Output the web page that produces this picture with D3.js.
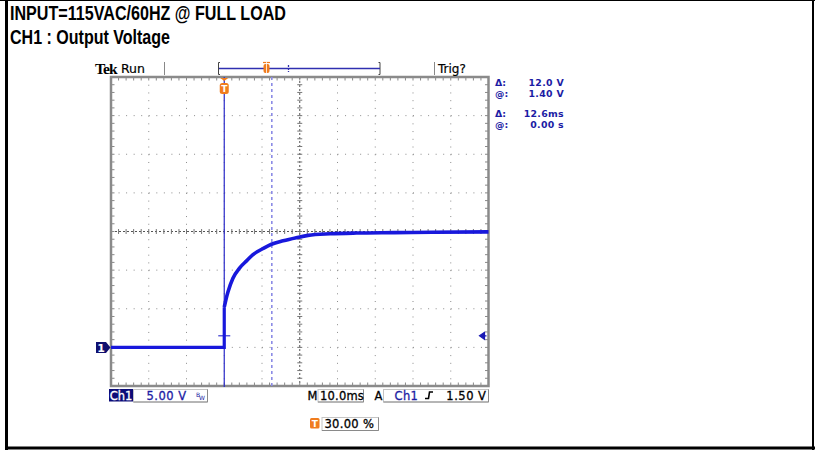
<!DOCTYPE html>
<html>
<head>
<meta charset="utf-8">
<script src="https://cdn.jsdelivr.net/npm/d3@7"></script>
<style>
  body { margin: 0; background: #fff; }
  svg { display: block; }
</style>
</head>
<body>
<div id="svgTarget"></div>
<script>
// captured waveform, CH1 (time in ms from trigger, volts)
const baseTimeMs = [-30, -20, -10, 0];
const baseVolts = [0, 0, 0, 0];
const riseTimeMs = [0, 0.5, 1.0, 2.3, 4.1, 5.9, 7.6, 10.3, 12.5, 15.6, 19.1, 22.2, 28, 35, 45, 55, 70];
const riseVolts = [5.2, 6.3, 7.2, 8.95, 10.3, 11.2, 12.0, 12.8, 13.35, 13.8, 14.2, 14.5, 14.7, 14.8, 14.85, 14.9, 14.95];

// scope settings
const timeTicks = [-30, -20, -10, 0, 10, 20, 30, 40, 50, 60, 70];
const voltTicks = [-5, 0, 5, 10, 15, 20, 25, 30, 35];
const cursorTimes = [0, 12.6];
const triggerLevel = 1.5;

const readouts = [
  ["Δ:", "12.0 V"],
  ["@:", "1.40 V"],
  ["Δ:", "12.6ms"],
  ["@:", "0.00 s"]
];

const W = 815, H = 450;
const svg = d3.select("#svgTarget")
  .append("svg")
    .attr("width", W)
    .attr("height", H);

// outer frame
svg.append("line").attr("x1", 0).attr("x2", W).attr("y1", 0.5).attr("y2", 0.5)
  .attr("stroke", "#000").attr("stroke-width", 1);
svg.append("line").attr("x1", 6.5).attr("x2", 6.5).attr("y1", 0).attr("y2", H)
  .attr("stroke", "#000").attr("stroke-width", 3);
svg.append("line").attr("x1", 813).attr("x2", 813).attr("y1", 0).attr("y2", H)
  .attr("stroke", "#000").attr("stroke-width", 2);
svg.append("line").attr("x1", 5).attr("x2", W).attr("y1", 448).attr("y2", 448)
  .attr("stroke", "#000").attr("stroke-width", 3);

// header
const headFont = "'Liberation Sans Narrow', 'Arial Narrow', 'Liberation Sans', Arial, sans-serif";
svg.append("text")
  .attr("x", 10).attr("y", 19.5)
  .attr("font-family", headFont).attr("font-weight", "bold").attr("font-size", 19.5)
  .attr("textLength", 276).attr("lengthAdjust", "spacingAndGlyphs")
  .text("INPUT=115VAC/60HZ @ FULL LOAD");
svg.append("text")
  .attr("x", 10).attr("y", 44)
  .attr("font-family", headFont).attr("font-weight", "bold").attr("font-size", 19.5)
  .attr("textLength", 160).attr("lengthAdjust", "spacingAndGlyphs")
  .text("CH1 : Output Voltage");

// scales
const x = d3.scaleLinear().domain([-30, 70]).range([111, 488.5]);
const y = d3.scaleLinear().domain([-5, 35]).range([386, 77]);
const minorX = (x(10) - x(0)) / 5;
const minorY = (y(0) - y(5)) / 5;

const g = svg.append("g");
const gridColor = "#8c8c8c";

// dotted graticule
g.selectAll(".vgrid").data(timeTicks.slice(1, -1).filter(d => d !== 20))
  .enter().append("line")
    .attr("x1", d => x(d)).attr("x2", d => x(d))
    .attr("y1", y(35)).attr("y2", y(-5))
    .attr("stroke", gridColor).attr("stroke-width", 1)
    .attr("stroke-dasharray", `1,${minorY - 1}`);
g.selectAll(".hgrid").data(voltTicks.slice(1, -1).filter(d => d !== 15))
  .enter().append("line")
    .attr("x1", x(-30)).attr("x2", x(70))
    .attr("y1", d => y(d)).attr("y2", d => y(d))
    .attr("stroke", gridColor).attr("stroke-width", 1)
    .attr("stroke-dasharray", `1,${minorX - 1}`);

// center cross with minor ticks
g.append("line")
  .attr("x1", x(20)).attr("x2", x(20)).attr("y1", y(35)).attr("y2", y(-5))
  .attr("stroke", "#555").attr("stroke-dasharray", "2,2");
g.append("line")
  .attr("x1", x(-30)).attr("x2", x(70)).attr("y1", y(15)).attr("y2", y(15))
  .attr("stroke", "#555").attr("stroke-dasharray", "2,2");

const minorTimes = d3.range(0, 51).map(i => -30 + i * 2);
const minorVolts = d3.range(0, 41).map(i => -5 + i);
g.selectAll(".ctx").data(minorTimes).enter().append("line")
  .attr("x1", d => x(d)).attr("x2", d => x(d))
  .attr("y1", y(15) - 2.5).attr("y2", y(15) + 2.5)
  .attr("stroke", "#777");
g.selectAll(".cty").data(minorVolts).enter().append("line")
  .attr("x1", x(20) - 2.5).attr("x2", x(20) + 2.5)
  .attr("y1", d => y(d)).attr("y2", d => y(d))
  .attr("stroke", "#777");

// frame ticks
g.selectAll(".ftt").data(minorTimes).enter().append("line")
  .attr("x1", d => x(d)).attr("x2", d => x(d))
  .attr("y1", y(35)).attr("y2", y(35) + 3.5)
  .attr("stroke", "#888");
g.selectAll(".ftb").data(minorTimes).enter().append("line")
  .attr("x1", d => x(d)).attr("x2", d => x(d))
  .attr("y1", y(-5)).attr("y2", y(-5) - 3.5)
  .attr("stroke", "#888");
g.selectAll(".ftl").data(minorVolts).enter().append("line")
  .attr("x1", x(-30)).attr("x2", x(-30) + 3.5)
  .attr("y1", d => y(d)).attr("y2", d => y(d))
  .attr("stroke", "#888");
g.selectAll(".ftr").data(minorVolts).enter().append("line")
  .attr("x1", x(70)).attr("x2", x(70) - 3.5)
  .attr("y1", d => y(d)).attr("y2", d => y(d))
  .attr("stroke", "#888");

g.append("rect")
  .attr("x", x(-30)).attr("y", y(35))
  .attr("width", x(70) - x(-30)).attr("height", y(-5) - y(35))
  .attr("fill", "none").attr("stroke", "#8a8a8a").attr("stroke-width", 2.5);

// cursors
g.append("line")
  .attr("x1", x(cursorTimes[1])).attr("x2", x(cursorTimes[1]))
  .attr("y1", y(35)).attr("y2", y(-5))
  .attr("stroke", "#8c8ce6").attr("stroke-width", 1.6).attr("stroke-dasharray", "3,3");
g.append("line")
  .attr("x1", x(cursorTimes[0])).attr("x2", x(cursorTimes[0]))
  .attr("y1", y(35)).attr("y2", y(-5) + 1)
  .attr("stroke", "#2a2ac8").attr("stroke-width", 1.2);

// trigger level marks
g.append("line")
  .attr("x1", x(0) - 6).attr("x2", x(0) + 6)
  .attr("y1", y(triggerLevel)).attr("y2", y(triggerLevel))
  .attr("stroke", "#3a3ad0").attr("stroke-width", 1.2);
const ty = y(triggerLevel);
g.append("path")
  .attr("d", `M${x(70) - 9},${ty} L${x(70) - 4},${ty - 3.5} L${x(70) - 4},${ty + 3.5} Z M${x(70) - 5},${ty} L${x(70) - 2},${ty}`)
  .attr("fill", "#1a1ab4").attr("stroke", "#1a1ab4").attr("stroke-width", 1.2);

// waveform
const baseData = baseTimeMs.map((t, i) => ({ t, v: baseVolts[i] }));
const riseData = riseTimeMs.map((t, i) => ({ t, v: riseVolts[i] }));
const lineGen = d3.line().x(d => x(d.t)).y(d => y(d.v));
g.append("path")
  .attr("d", lineGen(baseData.concat([riseData[0]])))
  .attr("fill", "none").attr("stroke", "#1818dc").attr("stroke-width", 3.2);
g.append("path")
  .attr("d", lineGen.curve(d3.curveMonotoneX)(riseData))
  .attr("fill", "none").attr("stroke", "#1818dc").attr("stroke-width", 3.6);

// ground marker
const gy = y(0);
svg.append("path")
  .attr("d", `M96,${gy - 5.5} L106,${gy - 5.5} L110.5,${gy} L106,${gy + 5.5} L96,${gy + 5.5} Z`)
  .attr("fill", "#101070");
svg.append("text")
  .attr("x", 101).attr("y", gy + 4.5).attr("text-anchor", "middle")
  .attr("font-family", "'DejaVu Sans', sans-serif").attr("font-weight", "bold").attr("font-size", 11)
  .attr("fill", "#fff").text("1");

// trigger position marker (orange)
const orange = "#f07c1e";
svg.append("path")
  .attr("d", `M${x(0) - 4},${y(35) + 1} L${x(0) + 4},${y(35) + 1} L${x(0)},${y(35) + 4} Z`)
  .attr("fill", orange);
svg.append("rect")
  .attr("x", x(0) - 4.5).attr("y", 83).attr("width", 9).attr("height", 11).attr("rx", 2.5)
  .attr("fill", orange);
svg.append("text")
  .attr("x", x(0)).attr("y", 92).attr("text-anchor", "middle")
  .attr("font-family", "'DejaVu Sans', sans-serif").attr("font-weight", "bold").attr("font-size", 9)
  .attr("fill", "#fff").text("T");

// top status bar
svg.append("text")
  .attr("x", 95).attr("y", 73.5)
  .attr("font-family", "'Liberation Serif', 'Times New Roman', serif").attr("font-weight", "bold").attr("font-size", 15.5)
  .attr("letter-spacing", -0.9).text("Tek");
svg.append("text")
  .attr("x", 121).attr("y", 73)
  .attr("font-family", "'DejaVu Sans', sans-serif").attr("font-size", 12.5)
  .attr("stroke", "#000").attr("stroke-width", 0.2)
  .text("Run");
svg.append("line").attr("x1", 164.5).attr("x2", 164.5).attr("y1", 62).attr("y2", 75)
  .attr("stroke", "#888");
svg.append("line").attr("x1", 434.5).attr("x2", 434.5).attr("y1", 62).attr("y2", 75)
  .attr("stroke", "#888");
svg.append("text")
  .attr("x", 438).attr("y", 73)
  .attr("font-family", "'DejaVu Sans', sans-serif").attr("font-size", 12)
  .attr("stroke", "#000").attr("stroke-width", 0.2)
  .text("Trig?");

// record bracket
svg.append("path")
  .attr("d", "M220,62.5 L218.5,62.5 L218.5,74.5 L220,74.5 M378.5,62.5 L380,62.5 L380,74.5 L378.5,74.5")
  .attr("fill", "none").attr("stroke", "#444").attr("stroke-width", 1);
svg.append("line").attr("x1", 219).attr("x2", 380).attr("y1", 68.5).attr("y2", 68.5)
  .attr("stroke", "#3030b0").attr("stroke-width", 1.3);
svg.append("line").attr("x1", 288.5).attr("x2", 288.5).attr("y1", 65).attr("y2", 72)
  .attr("stroke", "#3030b0").attr("stroke-width", 1.3).attr("stroke-dasharray", "2,1");
svg.append("rect")
  .attr("x", 263.5).attr("y", 64).attr("width", 6).attr("height", 9).attr("rx", 2)
  .attr("fill", orange);
svg.append("line").attr("x1", 263).attr("x2", 270).attr("y1", 62.5).attr("y2", 62.5)
  .attr("stroke", orange).attr("stroke-width", 1.2);
svg.append("line").attr("x1", 266.5).attr("x2", 266.5).attr("y1", 62).attr("y2", 74)
  .attr("stroke", "#fff").attr("stroke-width", 0.8);

// cursor readouts
const readBaselines = [86.3, 97.3, 116.8, 127.8];
const readFont = "'DejaVu Sans', sans-serif";
const rd = svg.append("g").attr("fill", "#1c1ca4")
  .attr("font-family", readFont).attr("font-weight", "bold").attr("font-size", 9.4);
readouts.forEach((r, i) => {
  rd.append("text").attr("x", 495).attr("y", readBaselines[i]).text(r[0]);
  rd.append("text").attr("x", 564).attr("y", readBaselines[i])
    .attr("text-anchor", "end").attr("letter-spacing", 0.3).text(r[1]);
});

// bottom status boxes
function box (x0, y0, w, h) {
  svg.append("rect").attr("x", x0 + 0.5).attr("y", y0 + 0.5).attr("width", w).attr("height", h)
    .attr("fill", "#fff").attr("stroke", "#c4c4c4");
  svg.append("path")
    .attr("d", `M${x0 + w + 0.5},${y0 + 0.5} L${x0 + w + 0.5},${y0 + h + 0.5} L${x0 + 0.5},${y0 + h + 0.5}`)
    .attr("fill", "none").attr("stroke", "#8a8a8a");
}
const bFont = "'DejaVu Sans', sans-serif";
const blue = "#1c1ca4";

svg.append("rect").attr("x", 109).attr("y", 389).attr("width", 24).attr("height", 12.5)
  .attr("fill", "#0c0c78");
svg.append("text").attr("x", 121).attr("y", 399.5).attr("text-anchor", "middle")
  .attr("font-family", bFont).attr("font-size", 11.5).attr("fill", "#fff")
  .attr("stroke", "#fff").attr("stroke-width", 0.3).text("Ch1");
box(133, 389, 74, 12.5);
svg.append("text").attr("x", 146.5).attr("y", 399.5)
  .attr("font-family", bFont).attr("font-size", 11.5).attr("letter-spacing", 0.5)
  .attr("fill", blue).attr("stroke", blue).attr("stroke-width", 0.3).text("5.00 V");
svg.append("text").attr("x", 196).attr("y", 396.5)
  .attr("font-family", bFont).attr("font-size", 6).attr("fill", blue).text("B");
svg.append("text").attr("x", 199).attr("y", 399.5)
  .attr("font-family", bFont).attr("font-size", 6).attr("fill", blue).text("W");

svg.append("text").attr("x", 307.5).attr("y", 399.5)
  .attr("font-family", bFont).attr("font-size", 11.5)
  .attr("stroke", "#000").attr("stroke-width", 0.3).text("M");
box(317.5, 389, 45.5, 12.5);
svg.append("text").attr("x", 320).attr("y", 399.5)
  .attr("font-family", bFont).attr("font-size", 11.5).attr("letter-spacing", 0.2)
  .attr("stroke", "#000").attr("stroke-width", 0.3).text("10.0ms");
svg.append("text").attr("x", 374.5).attr("y", 399.5)
  .attr("font-family", bFont).attr("font-size", 11.5)
  .attr("stroke", "#000").attr("stroke-width", 0.3).text("A");
box(383, 389, 105, 12.5);
svg.append("text").attr("x", 394.5).attr("y", 399.5)
  .attr("font-family", bFont).attr("font-size", 11.5).attr("letter-spacing", 0.4)
  .attr("fill", blue).attr("stroke", blue).attr("stroke-width", 0.3).text("Ch1");
svg.append("path")
  .attr("d", "M425,398.5 L428.5,398.5 L429.5,392 L433,392")
  .attr("fill", "none").attr("stroke", "#000").attr("stroke-width", 1.6);
svg.append("text").attr("x", 486.5).attr("y", 399.5).attr("text-anchor", "end")
  .attr("font-family", bFont).attr("font-size", 11.5).attr("letter-spacing", 0.5)
  .attr("stroke", "#000").attr("stroke-width", 0.3).text("1.50 V");

// trigger position readout
svg.append("rect").attr("x", 310).attr("y", 418).attr("width", 9.5).attr("height", 10.5).attr("rx", 1.5)
  .attr("fill", orange);
svg.append("text").attr("x", 314.8).attr("y", 427).attr("text-anchor", "middle")
  .attr("font-family", bFont).attr("font-weight", "bold").attr("font-size", 9).attr("fill", "#fff").text("T");
box(321.5, 417, 56.5, 13);
svg.append("text").attr("x", 324.5).attr("y", 428)
  .attr("font-family", bFont).attr("font-size", 11.5).attr("letter-spacing", 0.3)
  .attr("stroke", "#000").attr("stroke-width", 0.3).text("30.00 %");
</script>
</body>
</html>
